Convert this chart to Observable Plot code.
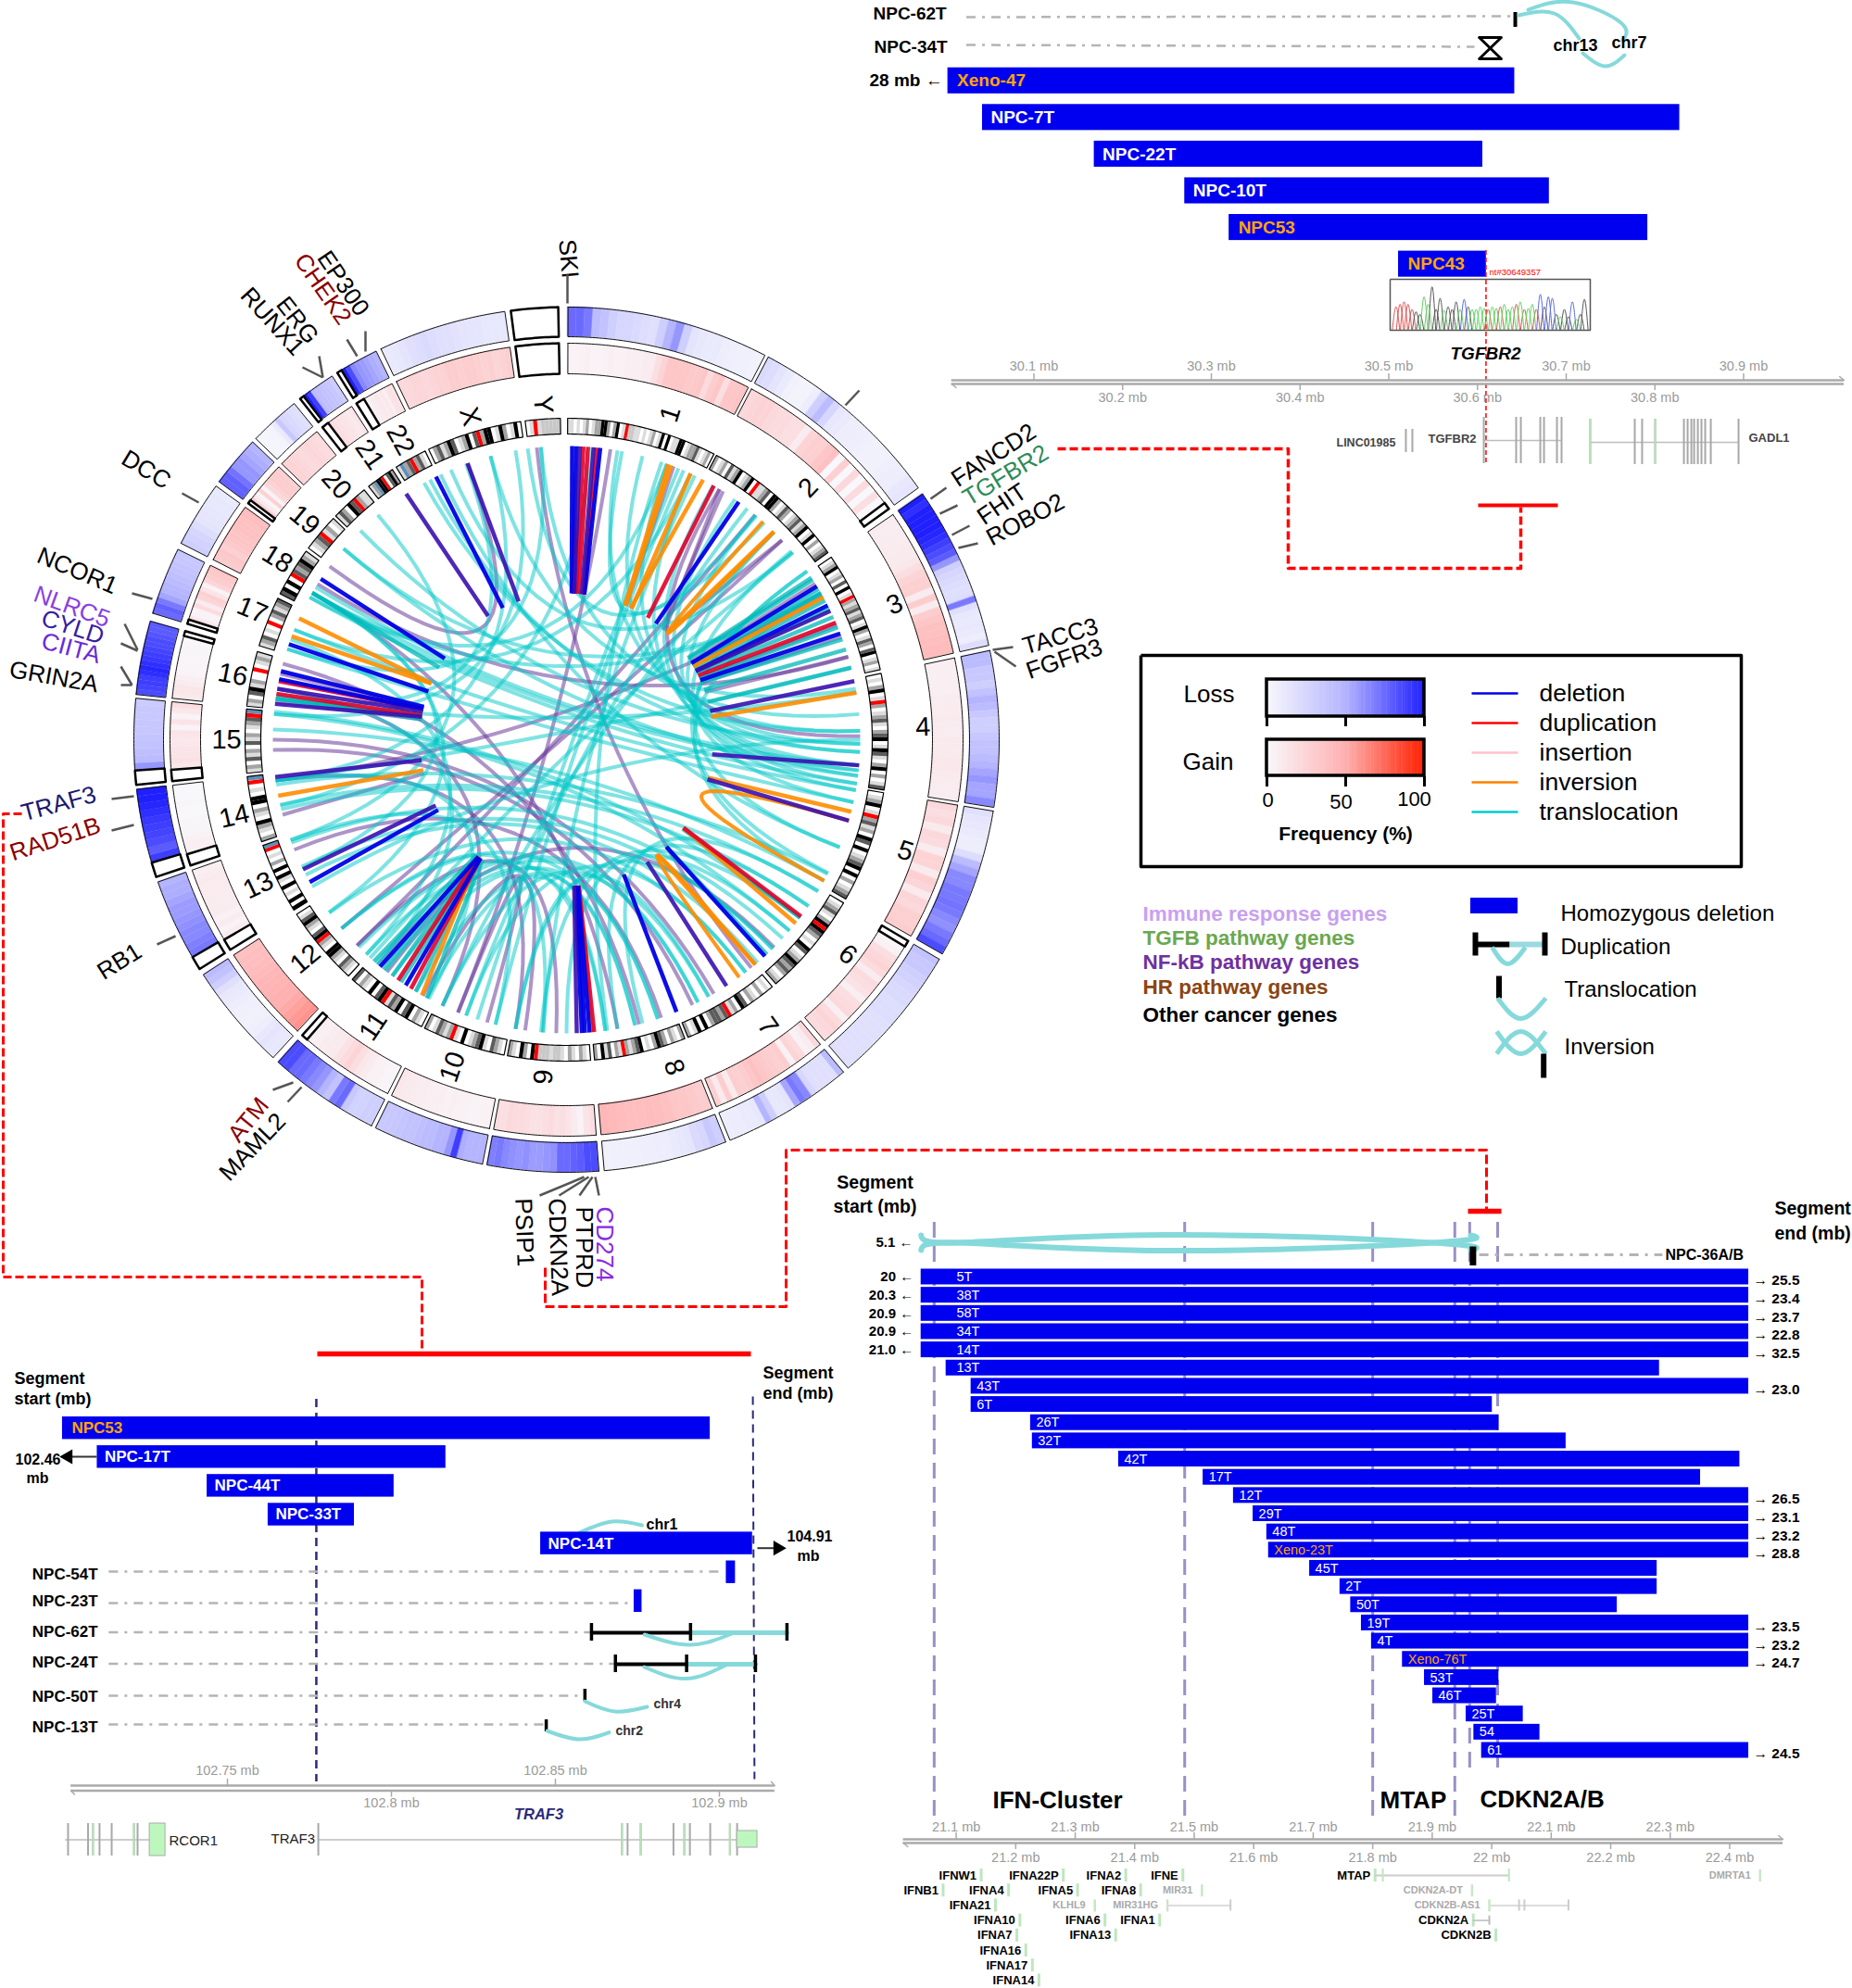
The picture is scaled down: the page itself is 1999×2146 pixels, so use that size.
<!DOCTYPE html>
<html><head><meta charset="utf-8">
<script src="https://cdn.jsdelivr.net/npm/d3@7"></script>
<script src="https://cdn.jsdelivr.net/npm/@observablehq/plot@0.6"></script>
<style>html,body{margin:0;background:#fff}#page{position:relative;width:1999px;height:2146px;background:#fff;overflow:hidden}#page svg{position:absolute;left:0;top:0;background:transparent}</style>
</head><body><div id="page"></div>
<script>
// ---------- circos: chromosomes ----------
const chrNames=["1","2","3","4","5","6","7","8","9","10","11","12","13","14","15","16","17","18","19","20","21","22","X","Y"];
const chrStart=[0.2,27.8,55.4,78.1,99.5,120.5,140.2,158.4,175.7,191.2,206.8,222.7,238,251.5,264,276,287,297,306.6,314.1,322,328,334.6,352.6];
const chrEnd=[27.3,54.4,77.4,99,119.7,139.4,157.8,175,190.6,206.2,221.8,237.1,250.8,263.4,275.5,285.9,296.1,305.9,313.5,321,327.2,333.9,351.8,358.9];
const chrLabelAngle=[17.7,43.8,67.6,88,108.2,127.4,144.9,161.8,183.9,199.2,214,230,244.7,257,270,281,292.4,302,310,318,325.4,331,343.4,356];
const chrLabelRadius=[369,377,383,385,385,382,378,372,365,374,373,368,368,368,367,367,367,368,369,371,374,370,364,363];
// loss frequency (%) along each chromosome; null = no data
const lossFreq=[
[75,75,70,45,40,30,25,25,22,20,18,30,50,60,30,15,12,10,10,8,7,6,6,5],
[22,20,15,10,5,4,4,8,30,45,25,12,10,8,8,7,6,5,5,5,7,8,8,12,14],
[100,95,100,100,100,100,98,95,90,85,80,60,30,25,22,20,18,20,70,18,12,10,12,10,8,20],
[45,45,35,35,30,40,50,45,35,30,30,35,40,40,45,50,55,60,55,55,65],
[18,14,12,10,8,8,20,45,55,65,65,70,70,72,70,65,62,70,75,85],
[40,35,35,30,28,25,22,22,20,20,20,18,18,18,18,18,18,18,18],
[45,18,18,18,18,25,65,70,55,15,12,12,30,50,12,10,10,9,9,8],
[30,35,25,22,14,12,10,8,8,7,7,6,6,6,6,5],
[85,85,80,78,75,75,62,60,58,58,62,60,62,65,70,68],
[50,50,50,52,90,60,50,50,45,45,42,40,40,38,36,35,35],
[30,30,28,28,35,75,70,40,50,60,65,70,75,75,85,85],
[12,12,15,12,8,6,5,6,6,8,10,12,18,30,40,45],
[null,null,70,68,65,65,62,60,58,58,55,52,52,50],
[null,null,90,80,85,88,90,92,95,98,100,100],
[null,null,60,45,42,40,38,36,36,35,35,33],
[85,88,90,90,95,98,95,92,90,88,85,85,82,80,80],
[75,78,70,55,50,48,45,42,40,38,36,36],
[30,28,26,20,15,14,13,12,12,10],
[78,78,72,60,60,55,52,50],
[2,2,3,4,10,35,25,22,20,18],
[null,100,90,45,42,40,38,36,32],
[null,100,85,65,60,58,55,52,50],
[10,12,15,18,20,22,20,18,18,16,15,14,14,12,12,12],
[null]];
// gain frequency (%) along each chromosome
const gainFreq=[
[4,4,5,6,4,4,5,6,5,5,6,6,7,8,8,18,25,35,35,35,35,32,32,35,20,30,35,18,35,35,36],
[22,24,26,25,22,20,20,18,18,8,25,28,28,35,38,0,28,0,22,0,20,0,18,0,null],
[8,8,8,9,8,10,10,12,18,25,28,28,8,30,8,30,34,38,38,40,42,42],
[6,6,6,7,7,8,8,9,10,8,8,10,10,10,12,12,10,9,8,8],
[22,18,22,10,22,20,8,25,25,10,28,24,10,24,22,28,28,30],
[null,3,5,18,22,25,20,8,20,18,15,6,18,20,22,6,20,25,22,20],
[22,8,5,20,25,5,30,28,30,32,35,38,35,30,28,30,10,30,10,28],
[30,32,35,35,38,40,42,40,40,42,44,45],
[18,14,4,8,14,18,16,20,18,16,16,18,20,20,22,18,18],
[5,5,4,4,5,5,6,5,6,6,6,8,8,10,10,12],
[2,3,5,5,8,12,18,25,20,15,10,10,8,6,6,null],
[60,58,55,52,50,50,48,47,45,44,42,40,40,38],
[null,null,8,4,8,5,8,8,9,8,9,9,10,8,6],
[null,null,6,6,5,2,2,2,1,1,2,1,1,0],
[null,null,12,16,14,14,12,12,14,4,14,4,12,18],
[10,12,13,8,6,4,3,3,3,2,2,2,1,null],
[null,12,4,4,20,8,24,28,14,4,24,30,32,35],
[30,32,34,28,32,34,36,36,38,38,38,40,40],
[null,28,10,3,28,4,22,26,30,30,30,28],
[25,25,24,22,20,22,24,22,20,20],
[null,null,20,18,16,14,14,12,10,14],
[null,null,null,4,6,8,10,12,8,12,6,14,16,14],
[22,22,24,24,22,24,26,26,30,30,28,30,30,28,26,28,24,26,28],
[null]];
// ideogram stain per band (w,l,g,d,k,c = grey levels; r = centromere; s = stalk)
const ideogram=[
"llwlwlgwlggkkgwgkwlrccllwlwlgwlkwkwllkkwlggdlwlgw",
"gwlgwdlgkwlgkwrllgdwkkgwldgwlgdlgkwlkwgwlgd",
"wlgkwlgwdwkwlrglgdlgdwlkgwldgwdkwlgwl",
"wlwgkwlrgwlgdlwgdkwlkdlwgkwgwld",
"wlgkwlrgdlgwkdwkwlgdkwkwgwlgd",
"wlgdlwgkrkdgwlwkdwlgkdgdgwlg",
"wlwgwlgwdkwglrdgddgwkwklwg",
"gwlgwgdkgwlwkdglgrlgwdlkwg",
"wlgwlgwlcclcccrkwgkwlg",
"wlgdwlkdglwkwlrglgdlwg",
"wlgwkdwkgdlrkdwkwlgwd",
"wlgdwlgkkwlgrkdwlgkdlw",
"kwkwlwkwlkwkwgwlwrs",
"gwlgkwlgwkkwlwrs",
"lgwdlgwdlgwlgdrs",
"lgwdklgwwrwlgl",
"lgdwlwrwgdlgd",
"dkwkwrdgdkgl",
"wlgdrlgwl",
"ldgwkdrgll",
"lgskkrwdkg",
"lsgdrgdlw",
"wgdlgkdwlgkwdrgkkwlkgwlkw",
"wlrlccccc"];
const stainColors={w:"#ffffff",l:"#dcdcdc",c:"#c8c8c8",g:"#a4a4a4",d:"#5c5c5c",k:"#000000",r:"#ff0000",s:"#5f8fb8"};
// structural variant links: pairs of genome angles
const translocationLinks=[[10.9,40.3],[352.4,42.3],[336.8,50.4],[334.6,111.5],[332.3,92.4],[331,88.3],[315.4,90.8],[310.6,97.1],[301.3,95],[300,96],[299,98.6],[292,99.9],[288,102.3],[278,80.7],[275.5,127.3],[272,118.7],[275,130.6],[261.2,117.2],[257.2,121.1],[256.3,124.5],[249.5,132.6],[244.4,135.4],[242.6,139.4],[233.9,142.4],[223,151.1],[220.4,153.4],[216.4,161.9],[210.9,166.5],[208.4,172.4],[184.6,25.9],[194,23.5],[197.7,22.4],[18.9,172],[50.4,222],[38,200],[45,205],[75.8,262],[90,240],
[299,20],[292,25],[288,355],[300,60],[310.6,60],[278,340],[275,350],[262,345],[257,5],[250,320],[244,300],[234,300],[223,290],[220,280],[208,262],[194,250],[184.6,230],[172.4,225],[166.5,218],[161.9,230],[153.4,205],[151,190],[142.4,200],[135.4,190],[130.6,180],[127.3,185],[124.5,170],[121,165],[118.7,60],[117,55],[111.5,55],[102.3,50],[99.9,45],[98.6,30],[97,25],[96,40],[95,35],[92.4,20],[88.3,10],[90.8,15],[85,355],[80,345]];
const purpleLinks=[[8.6,201.7],[354.2,141],[47.2,230],[89.3,31.4],[149.9,270],[154.6,268],[161.2,248],[165.7,285],[182,225.5],[188.1,209.3],[201.7,195.7],[302,73.6],[306.2,340.3],[60.8,262],[190,262],[205,280],[170,300],[225.5,40],[135,220]];
const inversionLinks=[[106,118.7],[140,144],[44.9,42]];
// hairpin variants: ring angle, apex angle
const deletionSpikes=[[1.1,2],[1.9,2.6],[6.6,7],[35.9,37.6],[58.5,58.5],[62.8,62],[68.8,66],[137.5,137],[158,157],[175.5,175.5],[176.4,176],[177,176.4],[213.2,216],[219.4,217],[241,241.3],[281.9,282],[283.5,283],[289,289.3],[303.2,303.7],[333.6,334.2]];
const indigoSpikes=[[2.6,3],[5.3,6],[147,146.6],[95,95.7],[106,105.7],[178,177],[243.8,243.3],[262.7,262],[277,279],[280,281],[326.9,327.6],[340.3,340.9],[78.5,78.7],[64,62]];
const dupSpikes=[[3.3,3.6],[4.2,4.6],[5.9,6.5],[127,127],[66.5,64],[212,216],[174.6,175.2],[281.5,282],[30.1,33.7],[215,217],[279,279.5]];
const orangeSpikes=[[20.3,23.5],[20.9,23.8],[25,26.4],[27.7,26],[44.9,43.5],[128.7,127],[140,141.6],[104.2,105],[175,175.3],[209.5,217],[294.4,292.6],[290.6,292.6],[259,258],[80.8,81],[61,60]];
const tealSpikes=[[56.5,56],[57,56.5],[59.1,59],[60.2,60],[61.7,61],[63.5,62.5],[65.3,63],[67.5,65],[70,67],[72.1,70],[214.3,216.5],[216.4,217],[210.9,216],[208.4,215],[221,218],[127.3,127.5],[137,137],[218.5,217.5],[300,299.6],[278,279],[75.8,75],[278.5,278]];
const purpleSpikes=[[57.9,58],[67,65],[73.6,71],[31.4,42],[32.2,41],[47.2,43],[217.7,217],[255.2,256.6],[21.4,24],[60,59.5],[69.5,67],[283,282.5],[277.5,278]];
const labelGenes=[
["SKI","#000"],["FANCD2","#000"],["TGFBR2","#2e8b57"],["FHIT","#000"],["ROBO2","#000"],["TACC3","#000"],["FGFR3","#000"],["ATM","#8b0000"],["MAML2","#000"],["PSIP1","#000"],["CDKN2A","#000"],["PTPRD","#000"],["CD274","#8a2be2"],["RB1","#000"],["TRAF3","#1a1a6e"],["RAD51B","#8b0000"],["GRIN2A","#000"],["CIITA","#6a2bd9"],["CYLD","#3320a0"],["NLRC5","#8a3fe0"],["NCOR1","#000"],["DCC","#000"],["RUNX1","#000"],["ERG","#000"],["CHEK2","#8b0000"],["EP300","#000"]];
// ---------- TGFBR2 panel ----------
const topNames=["Xeno-47","NPC-7T","NPC-22T","NPC-10T","NPC53","NPC43"];
const topStart=[30.003,30.042,30.168,30.270,30.320,30.511];
const topEnd=[30.642,30.828,30.606,30.681,30.792,30.610];
const topXeno=["Xeno-47","NPC53","NPC43"];
const topTicks=[30.1,30.2,30.3,30.4,30.5,30.6,30.7,30.8,30.9];
const tgfbr2Exons=[30.6071,30.6436,30.6489,30.6708,30.6750,30.6896,30.6948];
const lincExons=[30.5193,30.5266];
const gadl1Exons=[30.7271,30.7773,30.7856,30.8003,30.8327,30.8369,30.8411,30.8442,30.8484,30.8525,30.8567,30.8630,30.8943];
const traceBases="rrrrrkkggkkkgkkkgbkggggrggrgggrgrggrbkbbkgkkbgkk";
const traceHeights=[.45,.5,.55,.5,.4,.35,.3,.65,.5,.85,.4,.62,.38,.45,.4,.55,.4,.6,.45,.4,.4,.45,.42,.4,.45,.42,.45,.5,.4,.45,.5,.55,.4,.42,.5,.4,.7,.45,.65,.62,.3,.25,.4,.25,.55,.2,.3,.6];
// ---------- TRAF3 panel ----------
const trafNames=["NPC53","NPC-17T","NPC-44T","NPC-33T","NPC-14T","NPC-54T","NPC-23T"];
const trafStart=[102.6997,102.7103,102.7438,102.7624,102.8455,102.9021,102.8740];
const trafEnd=[102.8972,102.8166,102.8008,102.7887,102.9101,102.9049,102.8764];
const trafRowNames=["NPC-54T","NPC-23T","NPC-62T","NPC-24T","NPC-50T","NPC-13T"];
const trafRowEnd=[102.9006,102.8733,102.8610,102.8683,102.8590,102.8472];
const trafTicks=[102.75,102.8,102.85,102.9];
const rcor1Exons=[102.7014,102.7075,102.7090,102.7110,102.7147,102.7215,102.7226];
const traf3Exons=[102.7777,102.8703,102.8720,102.8760,102.8860,102.8893,102.8910,102.8972,102.9032,102.9054];
// ---------- CDKN2A panel ----------
const cdkNames=["5T","38T","58T","34T","14T","13T","43T","6T","26T","32T","42T","17T","12T","29T","48T","Xeno-23T","45T","2T","50T","19T","4T","Xeno-76T","53T","46T","25T","54","61"];
const cdkStart=[21.041,21.041,21.041,21.041,21.041,21.083,21.125,21.125,21.225,21.228,21.373,21.515,21.566,21.599,21.622,21.625,21.694,21.745,21.763,21.781,21.798,21.850,21.887,21.901,21.957,21.970,21.983];
const cdkEnd=[22.432,22.432,22.432,22.432,22.432,22.282,22.432,22.001,22.012,22.125,22.417,22.351,22.432,22.432,22.432,22.432,22.278,22.278,22.211,22.432,22.432,22.432,22.012,22.008,22.053,22.081,22.432];
const cdkInsetNames=["5T","38T","58T","34T","14T","13T"];
const cdkLeftNames=["5T","38T","58T","34T","14T"];
const cdkLeftValues=["20","20.3","20.9","20.9","21.0"];
const cdkRightNames=["5T","38T","58T","34T","14T","43T","12T","29T","48T","Xeno-23T","19T","4T","Xeno-76T","61"];
const cdkRightValues=["25.5","23.4","23.7","22.8","32.5","23.0","26.5","23.1","23.2","28.8","23.5","23.2","24.7","24.5"];
const cdkGuides=[21.063,21.484,21.8,21.938,21.963,22.010];
const cdkTicks=[21.1,21.2,21.3,21.4,21.5,21.6,21.7,21.8,21.9,22,22.1,22.2,22.3,22.4];
const cdkGeneNames=["IFNW1","IFNB1","IFNA4","IFNA21","IFNA10","IFNA7","IFNA16","IFNA17","IFNA14","IFNA22P","IFNA5","IFNA6","IFNA13","IFNA2","IFNA8","IFNA1","IFNE","MTAP","CDKN2A","CDKN2B"];
const cdkGeneMb=[21.142,21.078,21.188,21.166,21.207,21.202,21.217,21.228,21.239,21.280,21.304,21.350,21.368,21.385,21.410,21.442,21.481,21.804,21.969,22.007];
const cdkGeneRow=[0,1,1,2,3,4,5,6,7,0,1,3,4,0,1,3,0,0,3,4];
const cdkGreyNames=["KLHL9","MIR31","MIR31HG","CDKN2A-DT","CDKN2B-AS1","DMRTA1"];
const cdkGreyMb=[21.333,21.513,21.455,21.967,21.996,22.451];
const cdkGreyRow=[2,1,2,1,2,0];

// ---------- layout ----------
const cx=611,cy=798,W=1999,H=2146,FONT="Liberation Sans";
const page=document.getElementById("page");
function layer(o){const el=Plot.plot({width:W,height:H,margin:0,style:{fontFamily:FONT,background:"transparent"},...o});page.appendChild(el);return el;}
const pagePx={x:{axis:null,domain:[0,W],range:[0,W]},y:{axis:null,domain:[0,H],range:[0,H]}};
const lab=(s,x,y,o={})=>Plot.text([s],{x:[x],y:[y],text:[s],textAnchor:"start",fill:"#000",...o});
const seg=(x1,y1,x2,y2,o={})=>Plot.line([[x1,y1],[x2,y2]],{x:d=>d[0],y:d=>d[1],stroke:"#000",strokeLinecap:"butt",...o});
const poly=(pts,o={})=>Plot.line(pts,{x:d=>d[0],y:d=>d[1],stroke:"#000",strokeLinecap:"butt",...o});
const pol=(a,r)=>[r*Math.sin(a*Math.PI/180),-r*Math.cos(a*Math.PI/180)];
const arcPts=(a,b,r)=>{const n=Math.max(2,Math.ceil(Math.abs(b-a)/0.5));return d3.range(n+1).map(i=>pol(a+(b-a)*i/n,r));};

// ---------- circos layer ----------
const RL=[435,467],RG=[395,428],RI=[330,347];
function ringCells(vals,[r0,r1],sign,prefix){
  const cells=[],holes=[];
  vals.forEach((arr,c)=>{const a0=chrStart[c],a1=chrEnd[c],w=(a1-a0)/arr.length;
    arr.forEach((v,i)=>{const s=a0+i*w,e=s+w;
      if(v==null){holes.push({id:prefix+c+"_"+i,s,e});return;}
      [0,.5,1].forEach(t=>{const A=s+w*t,[x1,y1]=pol(A,r0),[x2,y2]=pol(A,r1);cells.push({id:prefix+c+"_"+i,x1,y1,x2,y2,v:sign*v});});
    });});
  return {cells,holes};
}
const loss=ringCells(lossFreq,RL,-1,"L"),gain=ringCells(gainFreq,RG,1,"G");
const outline=([r0,r1])=>chrNames.map((_,c)=>{const a=chrStart[c],b=chrEnd[c];return [...arcPts(a,b,r1),...arcPts(b,a,r0),pol(a,r1)].map(p=>({x:p[0],y:p[1],id:c}));}).flat();
function holeOutline(holes,[r0,r1],prefix){const out=[];let cur=null,k=0;
  const flush=()=>{if(cur){[...arcPts(cur.s,cur.e,r1),...arcPts(cur.e,cur.s,r0),pol(cur.s,r1)].forEach(p=>out.push({x:p[0],y:p[1],id:prefix+k}));k++;cur=null;}};
  holes.forEach(h=>{if(cur&&Math.abs(h.s-cur.e)<1e-6)cur.e=h.e;else{flush();cur={s:h.s,e:h.e};}});flush();return out;}
const colorCfg={type:"linear",domain:[-100,-50,0,50,100],range:["#2020ff","#b4b4ff","#f8f8fc","#ffb0b0","#ff2000"]};
const areaMark=data=>Plot.area(data,{x1:"x1",y1:"y1",x2:"x2",y2:"y2",z:"id",fill:"v",stroke:"v",strokeWidth:.4});
const bandRows=[];
ideogram.forEach((str,c)=>{const a0=chrStart[c],w=(chrEnd[c]-a0)/str.length;[...str].forEach((s,i)=>{arcPts(a0+i*w,a0+(i+1)*w,338.5).forEach(p=>bandRows.push({x:p[0],y:p[1],id:c+"_"+i,s}));});});
const stainMarks=Object.keys(stainColors).map(s=>Plot.line(bandRows.filter(d=>d.s===s),{x:"x",y:"y",z:"id",stroke:stainColors[s],strokeWidth:17,strokeLinecap:"butt"}));
const quad=(l,i,p)=>{const [a,b]=l,A=pol(a,317),B=pol(b,317);return d3.range(0,1.0001,.04).map(t=>({x:A[0]*(1-t)*(1-t)+B[0]*t*t,y:A[1]*(1-t)*(1-t)+B[1]*t*t,id:p+i}));};
const spike=(l,i,p)=>{const A=pol(l[0],317),B=pol(l[1],158);return [{x:A[0],y:A[1],id:p+i},{x:B[0],y:B[1],id:p+i}];};
const linkMark=(rows,stroke,strokeWidth,strokeOpacity)=>Plot.line(rows,{x:"x",y:"y",z:"id",stroke,strokeWidth,strokeOpacity,strokeLinecap:"butt"});
layer({x:{axis:null,domain:[-cx,W-cx],range:[0,W]},y:{axis:null,domain:[-cy,H-cy],range:[0,H]},color:colorCfg,marks:[
  areaMark(loss.cells),areaMark(gain.cells),
  Plot.line(outline(RL),{x:"x",y:"y",z:"id",stroke:"#111",strokeWidth:1}),
  Plot.line(outline(RG),{x:"x",y:"y",z:"id",stroke:"#111",strokeWidth:1}),
  Plot.line(holeOutline(loss.holes,RL,"h"),{x:"x",y:"y",z:"id",stroke:"#000",strokeWidth:2.5}),
  Plot.line(holeOutline(gain.holes,RG,"k"),{x:"x",y:"y",z:"id",stroke:"#000",strokeWidth:2.5}),
  ...stainMarks,
  Plot.line(outline(RI),{x:"x",y:"y",z:"id",stroke:"#000",strokeWidth:1.2}),
  Plot.text(chrNames.map((n,c)=>{const m=chrLabelAngle[c];const [x,y]=pol(m,chrLabelRadius[c]);return {n,x,y,rot:m<180?m-90:m+90};}),{x:"x",y:"y",text:"n",rotate:"rot",fontSize:29,fill:"#000"}),
  linkMark(purpleLinks.flatMap((l,i)=>quad(l,i,"p")),"#6a3d9a",4,.55),
  linkMark(purpleSpikes.flatMap((l,i)=>spike(l,i,"ps")),"#6a3d9a",4,.55),
  linkMark(translocationLinks.flatMap((l,i)=>quad(l,i,"t")),"#00c8c8",4,.5),
  linkMark(tealSpikes.flatMap((l,i)=>spike(l,i,"ts")),"#00b8b8",4.5,.75),
  linkMark(inversionLinks.flatMap((l,i)=>quad(l,i,"o")),"#ff8c00",4,.9),
  linkMark(orangeSpikes.flatMap((l,i)=>spike(l,i,"os")),"#ff8c00",4.5,.9),
  linkMark(dupSpikes.flatMap((l,i)=>spike(l,i,"ds")),"#e0002a",4.5,.9),
  linkMark(deletionSpikes.flatMap((l,i)=>spike(l,i,"bs")),"#0000e6",4.5,.95),
  linkMark(indigoSpikes.flatMap((l,i)=>spike(l,i,"is")),"#3a10b0",4.5,.9)
]});

// ---------- gene labels, legends, connectors (page pixel layer) ----------
const geneLayout={SKI:[611,258,85],FANCD2:[1029,519,-33],TGFBR2:[1041,539,-31],FHIT:[1057,560,-34],ROBO2:[1066,582,-28],TACC3:[1104,698,-16],FGFR3:[1108,725,-19],ATM:[251,1229,-51],MAML2:[241,1270,-46],PSIP1:[564,1293,88],CDKN2A:[600,1293,88],PTPRD:[630,1302,90],CD274:[652,1302,90],RB1:[107,1051,-32],TRAF3:[23,878,-15],RAD51B:[11,921,-18],GRIN2A:[10,722,10],CIITA:[45,691,15],CYLD:[45,666,18],NLRC5:[37,640,20],NCOR1:[41,598,23],DCC:[133,492,31],RUNX1:[264,314,48],ERG:[303,323,52],CHEK2:[323,276,55],EP300:[348,273,56]};
const geneTicks=[[612,296,612,327],[1004,538,1021,526],[1014,554,1033,545],[1027,577,1046,567],[1034,591,1055,586],[912,437,927,421],[1071,701,1093,698],[1073,703,1096,719],[294,1176,316,1168],[310,1189,325,1173],[582,1290,630,1270],[603,1290,635,1270],[625,1290,639,1270],[646,1290,642,1270],[169,1019,189,1010],[120,862,144,859],[120,896,144,890],[142,640,164,646],[134,673,148,701],[130,694,148,702],[130,719,142,739],[130,739,142,739],[196,532,214,542],[326,396,348,407],[344,384,348,407],[374,366,385,384],[394,357,394,379]];
const legendTypes=["deletion","duplication","insertion","inversion","translocation"];
const legendTypeColors=["#0000e6","#ff0000","#ffc0cb","#ff8000","#00cccc"];
const classNames=["Immune response genes","TGFB pathway genes","NF-kB pathway genes","HR pathway genes","Other cancer genes"];
const classColors=["#c9a0f0","#6aa84f","#7030a0","#8b4513","#000000"];
const TEAL="#86d9da",RED="#ff0000";
const geneMarks=d3.groups(labelGenes,d=>d[1]).map(([c,g])=>Plot.text(g,{x:d=>geneLayout[d[0]][0],y:d=>geneLayout[d[0]][1],rotate:d=>geneLayout[d[0]][2],text:d=>d[0],fontSize:26,textAnchor:"start",fill:c}));
const classY=[986,1012,1038,1065,1095],typeY=[748,780,812,844,876];
layer({...pagePx,marks:[
  ...geneMarks,
  ...geneTicks.map(t=>seg(t[0],t[1],t[2],t[3],{stroke:"#555",strokeWidth:2.5})),
  poly([[1141,484],[1390,484],[1390,613],[1641,613],[1641,547]],{stroke:RED,strokeWidth:3.5,strokeDasharray:"9,4"}),
  seg(1595,545,1681,545,{stroke:RED,strokeWidth:4}),
  poly([[23,878],[3,878],[3,1378],[455,1378],[455,1461]],{stroke:RED,strokeWidth:3,strokeDasharray:"9,4"}),
  seg(342,1461,810,1461,{stroke:RED,strokeWidth:5.5}),
  poly([[588,1368],[588,1410],[848,1410],[848,1241],[1604,1241],[1604,1307]],{stroke:RED,strokeWidth:3,strokeDasharray:"10,4"}),
  seg(1584,1307,1620,1307,{stroke:RED,strokeWidth:5.5}),
  poly([[1231,707],[1879,707],[1879,935],[1231,935],[1231,707]],{strokeWidth:3.5}),
  lab("Loss",1277,749,{fontSize:26}),lab("Gain",1276,822,{fontSize:26}),
  lab("0",1368,863,{fontSize:22,textAnchor:"middle"}),lab("50",1447,865,{fontSize:22,textAnchor:"middle"}),lab("100",1526,862,{fontSize:22,textAnchor:"middle"}),
  lab("Frequency (%)",1452,900,{fontSize:21,fontWeight:"bold",textAnchor:"middle"}),
  ...legendTypes.map((t,i)=>seg(1588,typeY[i],1638,typeY[i],{stroke:legendTypeColors[i],strokeWidth:2.5})),
  ...legendTypes.map((t,i)=>lab(t,1661,typeY[i],{fontSize:26.5})),
  ...classNames.map((t,i)=>lab(t,1233,classY[i],{fontSize:22.5,fontWeight:"bold",fill:classColors[i]})),
  Plot.rect([0],{x1:[1587],x2:[1638],y1:[969],y2:[986],fill:"#0000ee"}),
  lab("Homozygous deletion",1684,986,{fontSize:24}),
  seg(1592,1006,1592,1031,{strokeWidth:6}),seg(1594,1019,1629,1019,{strokeWidth:6}),seg(1629,1019,1666,1019,{stroke:"#9ad9e0",strokeWidth:6}),seg(1667,1006,1667,1031,{strokeWidth:6}),
  poly([[1610,1022],[1627,1040],[1646,1022]],{stroke:TEAL,strokeWidth:5,curve:"natural"}),
  lab("Duplication",1684,1022,{fontSize:24}),
  seg(1617.5,1053,1617.5,1077,{strokeWidth:6}),
  poly([[1616,1077],[1641,1099],[1668,1077]],{stroke:TEAL,strokeWidth:5,curve:"natural"}),
  lab("Translocation",1688,1068,{fontSize:24}),
  poly([[1615,1137],[1641,1113],[1668,1137]],{stroke:TEAL,strokeWidth:5,curve:"natural"}),
  poly([[1615,1113],[1641,1137],[1668,1113]],{stroke:TEAL,strokeWidth:5,curve:"natural"}),
  seg(1665.7,1137,1665.7,1163,{strokeWidth:6}),
  lab("Inversion",1688,1130,{fontSize:24})
]});
const gradSteps=d3.range(0,100,2);
layer({x:{axis:null,domain:[0,100],range:[1367,1537]},y:{axis:null,domain:[0,H],range:[0,H]},color:colorCfg,marks:[
  Plot.rect(gradSteps,{x1:d=>d,x2:d=>d+2.2,y1:733,y2:773,fill:d=>-d-1}),
  Plot.rect(gradSteps,{x1:d=>d,x2:d=>d+2.2,y1:798,y2:837,fill:d=>d+1}),
  Plot.rect([0],{x1:[0],x2:[100],y1:[733],y2:[773],stroke:"#000",strokeWidth:3.5}),
  Plot.rect([0],{x1:[0],x2:[100],y1:[798],y2:[837],stroke:"#000",strokeWidth:3.5}),
  Plot.ruleX([0,50,100],{y1:773,y2:784,stroke:"#000",strokeWidth:3}),
  Plot.ruleX([0,50,100],{y1:838,y2:849,stroke:"#000",strokeWidth:3})
]});

// ---------- shared helpers for panels ----------
const BLUE="#0000f0",ORANGE="#ffa500";
const rowsOf=(n,s,e)=>n.map((name,i)=>({name,s:s[i],e:e[i]}));
function axisMarks(ticks,x0,x1,yU,yL,labU,labL,fmt,fs){
  const up=ticks.filter((_,i)=>i%2===0),dn=ticks.filter((_,i)=>i%2===1),G="#aaaaaa",dxm=(x1-x0)*.005;
  return [Plot.ruleY([yU,yL],{x1:x0,x2:x1,stroke:G,strokeWidth:2.5}),
    Plot.ruleX(up,{y1:yU-7,y2:yU,stroke:G,strokeWidth:1.5}),Plot.ruleX(dn,{y1:yL,y2:yL+7,stroke:G,strokeWidth:1.5}),
    Plot.line([[x1-dxm,yU-4],[x1,yU]],{x:d=>d[0],y:d=>d[1],stroke:G,strokeWidth:1.5}),
    Plot.line([[x0,yL],[x0+dxm,yL+4]],{x:d=>d[0],y:d=>d[1],stroke:G,strokeWidth:1.5}),
    Plot.text(up,{x:d=>d,y:labU,text:d=>fmt(d)+" mb",fontSize:fs,fill:"#9a9a9a"}),
    Plot.text(dn,{x:d=>d,y:labL,text:d=>fmt(d)+" mb",fontSize:fs,fill:"#9a9a9a"})];
}
const exon=(xs,y1,y2,o={})=>Plot.ruleX(xs,{y1,y2,stroke:"#a8a8a8",strokeWidth:2,...o});
const xLine=(pts,o={})=>Plot.line(pts,{x:d=>d[0],y:d=>d[1],stroke:TEAL,strokeWidth:4,curve:"natural",...o});
const DASHDOT={stroke:"#b4b4b4",strokeWidth:2.5,strokeDasharray:"10,7,3,7",strokeLinecap:"butt"};

// ---------- TGFBR2 panel ----------
const topX={axis:null,domain:[30.1,30.9],range:[1115.5,1881.5]};
const topRows=rowsOf(topNames,topStart,topEnd);
layer({x:topX,y:{axis:null,type:"band",domain:topNames,range:[72.7,298.7],paddingInner:.29,paddingOuter:0,round:false},marks:[
  Plot.barX(topRows,{x1:"s",x2:"e",y:"name",fill:BLUE}),
  Plot.text(topRows.filter(d=>!topXeno.includes(d.name)),{x:"s",y:"name",text:"name",dx:9,textAnchor:"start",fontSize:19,fontWeight:"bold",fill:"#fff"}),
  Plot.text(topRows.filter(d=>topXeno.includes(d.name)),{x:"s",y:"name",text:"name",dx:10,textAnchor:"start",fontSize:19,fontWeight:"bold",fill:ORANGE})
]});
layer({x:topX,y:{axis:null,domain:[0,H],range:[0,H]},marks:[
  xLine([[30.0238,18],[30.6436,17]],{...DASHDOT,curve:"linear"}),
  xLine([[30.0238,48],[30.5966,50]],{...DASHDOT,curve:"linear"}),
  Plot.ruleX([30.6426],{y1:13,y2:29,stroke:"#000",strokeWidth:4}),
  xLine([[30.6020,40],[30.6268,40],[30.6020,63],[30.6268,63],[30.6020,40]],{stroke:"#000",strokeWidth:3,curve:"linear"}),
  xLine([[30.6467,16],[30.6864,14],[30.7146,41]]),
  xLine([[30.6572,10],[30.7073,2],[30.7616,24],[30.7637,43]]),
  xLine([[30.7188,57],[30.7438,71],[30.7658,59]]),
  Plot.ruleX([30.6096],{y1:270,y2:500,stroke:RED,strokeWidth:1.5,strokeDasharray:"5,3"}),
  ...axisMarks(topTicks,30.0073,31.0133,410,414,395,429,d=>d.toFixed(1),14.5),
  Plot.ruleY([475],{x1:30.6071,x2:30.6948,stroke:"#bdbdbd",strokeWidth:1.5}),
  Plot.ruleY([477],{x1:30.7271,x2:30.8943,stroke:"#bdbdbd",strokeWidth:1.5}),
  exon(lincExons,463,488),exon(tgfbr2Exons,450,500),exon(gadl1Exons,452,501),
  exon([30.7271,30.8003],452,501,{stroke:"#b6e2b6"})
]});
layer({...pagePx,marks:[
  lab("NPC-62T",942,14,{fontSize:19,fontWeight:"bold"}),lab("NPC-34T",943,50,{fontSize:19,fontWeight:"bold"}),
  lab("28 mb ←",938,86,{fontSize:19,fontWeight:"bold"}),
  lab("chr13",1676,49,{fontSize:18,fontWeight:"bold"}),lab("chr7",1739,46,{fontSize:18,fontWeight:"bold"}),
  lab("nt#30649357",1607,293,{fontSize:9.5,fill:"#ff0000"}),
  lab("TGFBR2",1603,381,{fontSize:19,fontWeight:"bold",fontStyle:"italic",textAnchor:"middle"}),
  lab("LINC01985",1442,477,{fontSize:12.5,fontWeight:"bold",fill:"#444"}),
  lab("TGFBR2",1541,473,{fontSize:13,fontWeight:"bold",fill:"#444"}),
  lab("GADL1",1887,472,{fontSize:13,fontWeight:"bold",fill:"#444"})
]});
const traceColors={r:"#e05050",k:"#555555",g:"#60d060",b:"#5a6ae0"};
const peaks=[...traceBases].map((b,i)=>[[i-.9,0,i,b],[i,traceHeights[i],i,b],[i+.9,0,i,b]]).flat();
layer({x:{axis:null,domain:[-1,traceBases.length],range:[1502,1714]},y:{axis:null,domain:[0,1],range:[355,301]},marks:
  Object.keys(traceColors).map(b=>Plot.line(peaks.filter(p=>p[3]===b),{x:d=>d[0],y:d=>d[1],z:d=>d[2],stroke:traceColors[b],strokeWidth:1,curve:"monotone-x"}))
});
layer({...pagePx,marks:[poly([[1500,301],[1716,301],[1716,356],[1500,356],[1500,301]],{stroke:"#555",strokeWidth:1.5})]});

// ---------- TRAF3 panel ----------
const trafX={axis:null,domain:[102.75,102.9],range:[245,776]};
const trafRowY=[1696,1730,1761.5,1795.5,1830,1861];
const trafLabelY=[1699,1728.5,1761,1794,1830.7,1864];
layer({x:trafX,y:{axis:null,domain:[0,H],range:[0,H]},marks:[
  Plot.ruleX([102.7771],{y1:1510,y2:1923,stroke:"#2a2a7a",strokeWidth:2.5,strokeDasharray:"9,6"}),
  Plot.line([[102.9102,1507],[102.9107,1920]],{x:d=>d[0],y:d=>d[1],stroke:"#2a2a7a",strokeWidth:2,strokeDasharray:"9,6",strokeLinecap:"butt"}),
  ...trafRowNames.map((n,i)=>xLine([[102.7138,trafRowY[i]],[trafRowEnd[i],trafRowY[i]]],{...DASHDOT,curve:"linear"})),
  ...trafRowNames.map((n,i)=>Plot.text([n],{x:[102.7105],y:[trafLabelY[i]],text:[n],textAnchor:"end",fontSize:17,fontWeight:"bold",fill:"#000"})),
  xLine([[102.8912,1762],[102.9206,1762]],{strokeWidth:5,curve:"linear"}),
  Plot.ruleY([1762],{x1:102.8610,x2:102.8912,stroke:"#000",strokeWidth:4}),
  Plot.ruleX([102.8610,102.8912,102.9206],{y1:1752,y2:1771,stroke:"#000",strokeWidth:3.5}),
  xLine([[102.8772,1764],[102.8912,1775],[102.9045,1762]]),
  xLine([[102.8900,1796],[102.9110,1796]],{strokeWidth:5,curve:"linear"}),
  Plot.ruleY([1796],{x1:102.8683,x2:102.8900,stroke:"#000",strokeWidth:4}),
  Plot.ruleX([102.8683,102.8900,102.9110],{y1:1786,y2:1805,stroke:"#000",strokeWidth:3.5}),
  xLine([[102.8771,1799],[102.8897,1811.5],[102.9020,1797]]),
  Plot.ruleX([102.8590],{y1:1823,y2:1836,stroke:"#000",strokeWidth:3.5}),
  xLine([[102.8590,1836],[102.8681,1847],[102.8780,1842]]),
  Plot.ruleX([102.8472],{y1:1856,y2:1869,stroke:"#000",strokeWidth:3.5}),
  xLine([[102.8475,1868],[102.8573,1877],[102.8664,1869.6]]),
  xLine([[102.8573,1654],[102.8672,1642],[102.8764,1646]]),
  ...axisMarks(trafTicks,102.7023,102.9169,1927,1932.5,1911,1946,d=>String(d),14.5),
  Plot.ruleY([1985.5],{x1:102.7006,x2:102.7263,stroke:"#bdbdbd",strokeWidth:1.5}),
  Plot.ruleY([1985.5],{x1:102.7777,x2:102.9054,stroke:"#bdbdbd",strokeWidth:1.5}),
  exon(rcor1Exons,1968,2003),exon(traf3Exons,1968,2003),
  exon([102.7090,102.7215,102.8703,102.8760,102.8893,102.9032],1968,2003,{stroke:"#b6e2b6"}),
  Plot.rect([0],{x1:[102.7263],x2:[102.7311],y1:[1968],y2:[2003],fill:"#bdf7bd",stroke:"#aaa"}),
  Plot.rect([0],{x1:[102.9054],x2:[102.9116],y1:[1976],y2:[1994],fill:"#bdf7bd",stroke:"#aaa"})
]});
const trafRows=rowsOf(trafNames,trafStart,trafEnd);
const isOrange=n=>n.startsWith("Xeno")||n==="NPC53"||n==="NPC43";
layer({x:trafX,y:{axis:null,type:"band",domain:trafNames,range:[1529,1740],paddingInner:.215,paddingOuter:0,round:false},marks:[
  Plot.barX(trafRows,{x1:"s",x2:"e",y:"name",fill:BLUE}),
  Plot.text(trafRows.filter(d=>d.name!=="NPC-54T"&&d.name!=="NPC-23T"&&!isOrange(d.name)),{x:"s",y:"name",text:"name",dx:8,textAnchor:"start",fontSize:17,fontWeight:"bold",fill:"#fff"}),
  Plot.text(trafRows.filter(d=>isOrange(d.name)),{x:"s",y:"name",text:"name",dx:10,textAnchor:"start",fontSize:17,fontWeight:"bold",fill:ORANGE})
]});
layer({...pagePx,marks:[
  lab("Segment",15,1488,{fontSize:18,fontWeight:"bold"}),lab("start (mb)",15,1510,{fontSize:18,fontWeight:"bold"}),
  lab("Segment",823,1481.5,{fontSize:18,fontWeight:"bold"}),lab("end (mb)",823,1504,{fontSize:18,fontWeight:"bold"}),
  lab("102.46",16,1575,{fontSize:16,fontWeight:"bold"}),lab("mb",28,1595.5,{fontSize:16,fontWeight:"bold"}),
  seg(75,1572,104,1572,{strokeWidth:2,stroke:"#333"}),
  Plot.dot([0],{x:[73],y:[1572],symbol:"triangle",r:6,fill:"#000",rotate:-90}),
  lab("104.91",849,1658.5,{fontSize:16,fontWeight:"bold"}),lab("mb",860,1679,{fontSize:16,fontWeight:"bold"}),
  seg(817,1670.7,838,1670.7,{strokeWidth:2,stroke:"#333"}),
  Plot.dot([0],{x:[839],y:[1670.7],symbol:"triangle",r:6,fill:"#000",rotate:90}),
  lab("chr1",697,1645.5,{fontSize:16,fontWeight:"bold"}),lab("chr4",705,1839,{fontSize:14,fontWeight:"bold",fill:"#333"}),lab("chr2",664,1868,{fontSize:14,fontWeight:"bold",fill:"#333"}),
  lab("TRAF3",581,1958,{fontSize:16.5,fontWeight:"bold",fontStyle:"italic",textAnchor:"middle",fill:"#2a2a7a"}),
  lab("RCOR1",182,1987,{fontSize:15,fill:"#222"}),lab("TRAF3",292,1984.5,{fontSize:15,fill:"#222"})
]});

// ---------- CDKN2A panel ----------
const cdkX={axis:null,domain:[21.1,22.4],range:[1031.6,1866.5]};
const cdkRows=rowsOf(cdkNames,cdkStart,cdkEnd);
const rowYGene=r=>2024+16.2*r;
layer({x:cdkX,y:{axis:null,domain:[0,H],range:[0,H]},marks:[
  ...cdkGuides.map((g,i)=>Plot.ruleX([g],{y1:1319,y2:i<4?1965:1912,stroke:"#9a90c8",strokeWidth:3,strokeDasharray:"17,9"})),
  xLine([[21.041,1333],[21.105,1341],[21.45,1332.5],[21.9,1341],[21.965,1349]],{strokeWidth:6}),
  xLine([[21.041,1349],[21.105,1341],[21.45,1349.5],[21.9,1341],[21.965,1333]],{strokeWidth:6}),
  xLine([[21.979,1354],[22.287,1354]],{...DASHDOT,strokeWidth:3,curve:"linear"}),
  Plot.ruleX([21.9685],{y1:1345.5,y2:1366,stroke:"#000",strokeWidth:7}),
  ...axisMarks(cdkTicks,21.0112,22.4896,1985,1989,1971.7,2005,d=>String(d),14.5),
  Plot.ruleX(cdkGeneMb,{y1:(d,i)=>rowYGene(cdkGeneRow[i])-7,y2:(d,i)=>rowYGene(cdkGeneRow[i])+7,stroke:"#bfe6bf",strokeWidth:3}),
  Plot.ruleX(cdkGreyMb,{y1:(d,i)=>rowYGene(cdkGreyRow[i])-6,y2:(d,i)=>rowYGene(cdkGreyRow[i])+7,stroke:"#c8e6c8",strokeWidth:2.5}),
  Plot.text(cdkGeneNames,{x:(d,i)=>cdkGeneMb[i],y:(d,i)=>rowYGene(cdkGeneRow[i]),text:d=>d,dx:-5,textAnchor:"end",fontSize:13,fontWeight:"bold",fill:"#000"}),
  Plot.text(cdkGreyNames,{x:(d,i)=>cdkGreyMb[i],y:(d,i)=>rowYGene(cdkGreyRow[i]),text:d=>d,dx:-10,textAnchor:"end",fontSize:11,fontWeight:"bold",fill:"#aaa"}),
  Plot.ruleY([rowYGene(0)],{x1:21.804,x2:22.029,stroke:"#ccc",strokeWidth:2}),
  exon([21.817,22.029],rowYGene(0)-7,rowYGene(0)+7,{stroke:"#bfe6bf"}),
  Plot.ruleY([rowYGene(2)],{x1:21.455,x2:21.561,stroke:"#ddd",strokeWidth:2}),
  exon([21.561],rowYGene(2)-6,rowYGene(2)+6,{stroke:"#ccc"}),
  Plot.ruleY([rowYGene(2)],{x1:21.996,x2:22.129,stroke:"#ddd",strokeWidth:2}),
  exon([22.046,22.055,22.129],rowYGene(2)-6,rowYGene(2)+6,{stroke:"#ccc"}),
  Plot.ruleY([rowYGene(3)],{x1:21.969,x2:21.996,stroke:"#bbb",strokeWidth:1.5}),
  exon([21.996],rowYGene(3)-5,rowYGene(3)+5,{stroke:"#bbb"})
]});
const cdkRight=cdkRightNames.map((name,i)=>({name,v:cdkRightValues[i],x:cdkEnd[cdkNames.indexOf(name)]}));
const cdkLeft=cdkLeftNames.map((name,i)=>({name,v:cdkLeftValues[i],x:cdkStart[cdkNames.indexOf(name)]}));
const insetRows=cdkRows.filter(d=>cdkInsetNames.includes(d.name));
const plainRows=cdkRows.filter(d=>!cdkInsetNames.includes(d.name)&&!d.name.startsWith("Xeno"));
layer({x:cdkX,y:{axis:null,type:"band",domain:cdkNames,range:[1369.5,1897.5],paddingInner:.135,paddingOuter:0,round:false},marks:[
  Plot.barX(cdkRows,{x1:"s",x2:"e",y:"name",fill:BLUE}),
  Plot.text(insetRows,{x:()=>21.1006,y:"name",text:"name",textAnchor:"start",fontSize:14.5,fill:"#fff"}),
  Plot.text(plainRows,{x:"s",y:"name",text:"name",dx:6,textAnchor:"start",fontSize:14.5,fill:"#fff"}),
  Plot.text(cdkRows.filter(d=>d.name.startsWith("Xeno")),{x:"s",y:"name",text:"name",dx:6,textAnchor:"start",fontSize:14.5,fill:ORANGE}),
  Plot.text(cdkLeft,{x:"x",y:"name",text:d=>d.v+" ←",dx:-8,textAnchor:"end",fontSize:15,fontWeight:"bold",fill:"#000"}),
  Plot.text(cdkRight,{x:"x",y:"name",text:d=>"→ "+d.v,dx:5,dy:4,textAnchor:"start",fontSize:15.5,fontWeight:"bold",fill:"#000"})
]});
layer({...pagePx,marks:[
  lab("Segment",944,1276,{fontSize:19.5,fontWeight:"bold",textAnchor:"middle"}),lab("start (mb)",944,1302.5,{fontSize:19.5,fontWeight:"bold",textAnchor:"middle"}),
  lab("Segment",1915,1304.7,{fontSize:19.5,fontWeight:"bold"}),lab("end (mb)",1915,1331,{fontSize:19.5,fontWeight:"bold"}),
  lab("5.1 ←",985,1340.5,{fontSize:15,fontWeight:"bold",textAnchor:"end"}),
  lab("NPC-36A/B",1797,1354,{fontSize:16,fontWeight:"bold"}),
  lab("IFN-Cluster",1071,1943,{fontSize:26,fontWeight:"bold"}),
  lab("MTAP",1489,1943,{fontSize:26,fontWeight:"bold"}),
  lab("CDKN2A/B",1597,1942,{fontSize:26,fontWeight:"bold"})
]});
</script></body></html>
